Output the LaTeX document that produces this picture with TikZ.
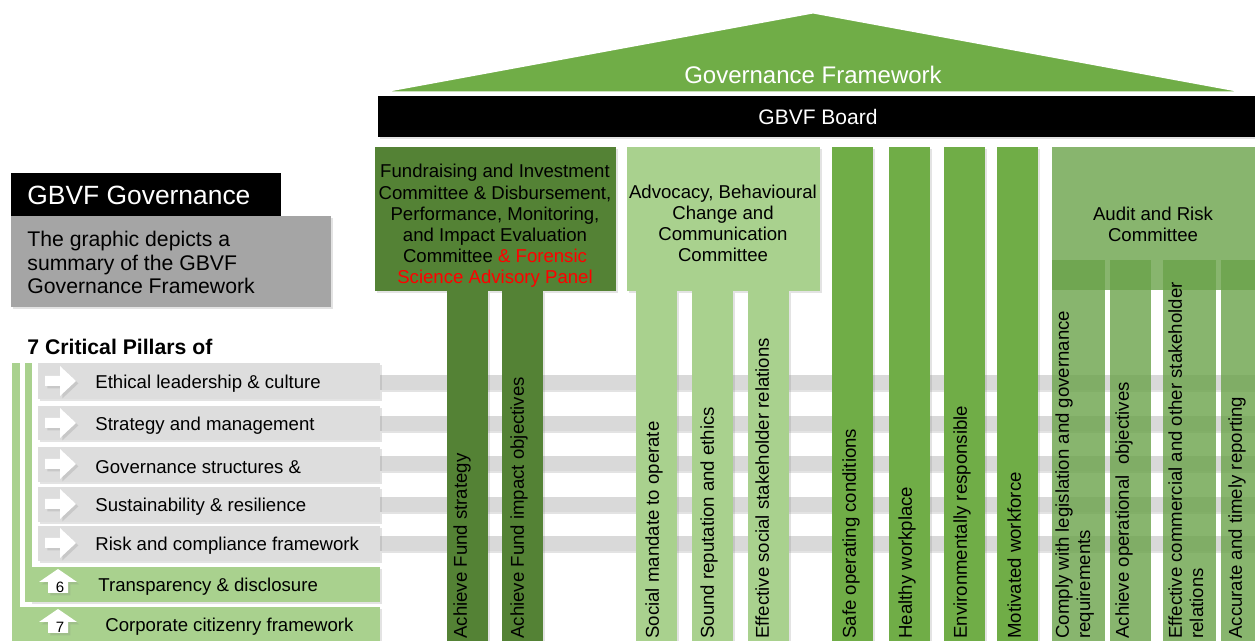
\documentclass[tikz,border=0pt]{standalone}
\usepackage{fontspec}
\setmainfont{Liberation Sans}
\usepackage{tikz}
\usetikzlibrary{shadows}

\definecolor{darkleaf}{HTML}{548235}
\definecolor{leaf}{HTML}{70AD47}
\definecolor{paleleaf}{HTML}{A9D18E}
\definecolor{auditleaf}{HTML}{6AA24A}
\definecolor{bandgrey}{HTML}{D9D9D9}
\definecolor{rowgrey}{HTML}{DDDDDD}
\definecolor{notegrey}{HTML}{A5A5A5}
\definecolor{panelred}{HTML}{FF0000}

\begin{document}
\begin{tikzpicture}[x=0.5pt,y=-0.5pt,
  txt/.style={font=\fontsize{9.3}{10.6}\selectfont,inner sep=0pt},
  vlabel/.style={txt,rotate=90,anchor=north west,align=left},
  soft/.style={drop shadow={shadow xshift=1.2pt,shadow yshift=-1.2pt,opacity=0.22}},
  auditfill/.style={fill=auditleaf,fill opacity=0.8},
  rarr/.pic={\fill[white,soft] (-15,-5) -- (0,-5) -- (0,-15) -- (16,0) -- (0,15) -- (0,5) -- (-15,5) -- cycle;},
  uarr/.pic={\fill[white,soft] (0,-13) -- (19,0) -- (10,0) -- (10,11) -- (-10,11) -- (-10,0) -- (-19,0) -- cycle;}]
\useasboundingbox (0,0) rectangle (1255,641);

% grey bands running behind the pillars
\fill[bandgrey,soft] (380,375) rectangle (1255,390);
\fill[bandgrey,soft] (380,416) rectangle (1255,431);
\fill[bandgrey,soft] (380,456) rectangle (1255,471);
\fill[bandgrey,soft] (380,497) rectangle (1255,512);
\fill[bandgrey,soft] (380,536) rectangle (1255,551);

% roof and board
\fill[leaf,draw=white,line width=1.5pt,line join=miter] (373,93) -- (813,12) -- (1253,93) -- cycle;
\node[txt,font=\fontsize{12}{14}\selectfont,text=white] (roof) at (813,75) {Governance Framework};
\fill[black,soft] (378,96) rectangle (1255,137);
\node[txt,font=\fontsize{10.5}{12}\selectfont,text=white] (board) at (818,117) {GBVF Board};

% left panel
\fill[black] (11,173) rectangle (281,216);
\node[txt,font=\fontsize{13.2}{15}\selectfont,text=white,anchor=west] (title) at (27,195) {GBVF Governance};
\fill[notegrey,soft] (11,216) rectangle (331,307);
\node[txt,font=\fontsize{10.6}{11.75}\selectfont,anchor=north west,align=left] (note) at (27,231) {The graphic depicts a\\summary of the GBVF\\Governance Framework};
\node[txt,font=\bfseries\fontsize{10.6}{12}\selectfont,anchor=west] (pillarhead) at (27,347) {7 Critical Pillars of};

\fill[paleleaf] (12,363) rectangle (20,641);
\fill[paleleaf] (25,363) rectangle (32,602);
\fill[rowgrey,soft] (38,363) rectangle (380,399);
\fill[rowgrey,soft] (38,406) rectangle (380,440);
\fill[rowgrey,soft] (38,447) rectangle (380,482);
\fill[rowgrey,soft] (38,487) rectangle (380,522);
\fill[rowgrey,soft] (38,526) rectangle (380,561);
\fill[paleleaf,soft] (30,567) rectangle (380,602);
\fill[paleleaf,soft] (12,607) rectangle (380,645);

\pic at (60,381) {rarr};
\pic at (60,423) {rarr};
\pic at (60,464) {rarr};
\pic at (60,504) {rarr};
\pic at (60,543) {rarr};
\pic at (58,582) {uarr};
\pic at (58,622) {uarr};
\node[txt,font=\fontsize{7.5}{8}\selectfont] (n6) at (60,587) {6};
\node[txt,font=\fontsize{7.5}{8}\selectfont] (n7) at (60,627) {7};

\node[txt,anchor=west] (p1) at (95,384) {Ethical leadership \& culture};
\node[txt,anchor=west] (p2) at (95,426) {Strategy and management};
\node[txt,anchor=west] (p3) at (95,467) {Governance structures \&};
\node[txt,anchor=west] (p4) at (95,507) {Sustainability \& resilience};
\node[txt,anchor=west] (p5) at (95,546) {Risk and compliance framework};
\node[txt,anchor=west] (p6) at (98,587) {Transparency \& disclosure};
\node[txt,anchor=west] (p7) at (105,627) {Corporate citizenry framework};

% fundraising committee
\fill[darkleaf,soft] (375,147) rectangle (616,291);
\node[txt,align=center] (fund) at (495,226) {Fundraising and Investment\\Committee \& Disbursement,\\Performance, Monitoring,\\and Impact Evaluation\\Committee \textcolor{panelred}{\& Forensic}\\\textcolor{panelred}{Science Advisory Panel}};
\fill[darkleaf,soft] (447,291) rectangle (488,641);
\fill[darkleaf,soft] (502,291) rectangle (543,641);

% advocacy committee
\fill[paleleaf,soft] (627,147) rectangle (820,291);
\node[txt,align=center] (advocacy) at (723,223.5) {Advocacy, Behavioural\\Change and\\Communication\\Committee};
\fill[paleleaf,soft] (636,291) rectangle (677,641);
\fill[paleleaf,soft] (692,291) rectangle (733,641);
\fill[paleleaf,soft] (748,291) rectangle (789,641);

% board pillars
\fill[leaf,soft] (832,147) rectangle (873,641);
\fill[leaf,soft] (889,147) rectangle (930,641);
\fill[leaf,soft] (944,147) rectangle (985,641);
\fill[leaf,soft] (997,147) rectangle (1038,641);

% audit and risk committee
\fill[auditfill] (1052,147) rectangle (1255,290);
\fill[auditfill] (1052,260) rectangle (1105,641);
\fill[auditfill] (1110,260) rectangle (1151,641);
\fill[auditfill] (1163,260) rectangle (1216,641);
\fill[auditfill] (1221,260) rectangle (1255,641);
\node[txt,align=center] (audit) at (1153,224) {Audit and Risk\\Committee};

% pillar labels
\node[vlabel] (f1) at (453,639) {Achieve Fund strategy};
\node[vlabel] (f2) at (510,639) {Achieve Fund impact objectives};
\node[vlabel] (a1) at (645,639) {Social mandate to operate};
\node[vlabel] (a2) at (700,639) {Sound reputation and ethics};
\node[vlabel] (a3) at (755,639) {Effective social stakeholder relations};
\node[vlabel] (b1) at (842,639) {Safe operating conditions};
\node[vlabel] (b2) at (898,639) {Healthy workplace};
\node[vlabel] (b3) at (953,639) {Environmentally responsible};
\node[vlabel] (b4) at (1007,639) {Motivated workforce};
\node[vlabel] (r1) at (1055,639) {Comply with legislation and governance\\requirements};
\node[vlabel] (r2) at (1115,639) {Achieve operational~ objectives};
\node[vlabel] (r3) at (1168,639) {Effective commercial and other stakeholder\\relations};
\node[vlabel] (r4) at (1228,639) {Accurate and timely reporting};
\end{tikzpicture}
\end{document}
